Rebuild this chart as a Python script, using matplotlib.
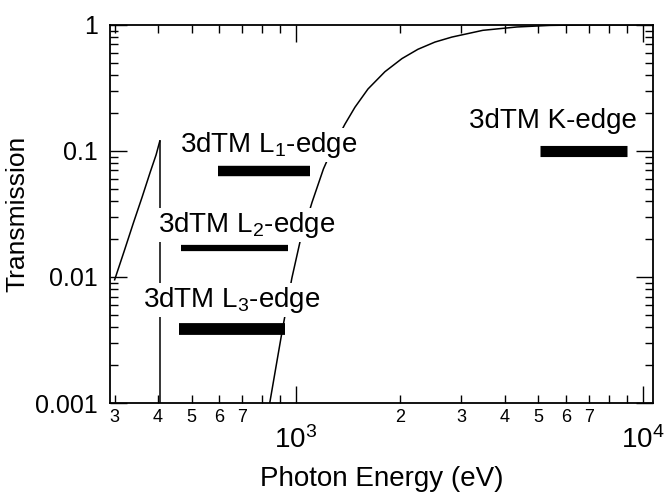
import numpy as np
import matplotlib
matplotlib.use('Agg')
import matplotlib.pyplot as plt

# ---- fonts: Helvetica-like ----
plt.rcParams['font.family'] = ['Liberation Sans', 'DejaVu Sans']
plt.rcParams['mathtext.fontset'] = 'custom'
plt.rcParams['mathtext.rm'] = 'Liberation Sans'
plt.rcParams['mathtext.it'] = 'Liberation Sans:italic'

# ---- data ----
# transmission below the N K-edge
seg1_energy = [300, 320, 340, 360, 380, 395, 405]
seg1_trans = [0.0095, 0.0162, 0.027, 0.043, 0.068, 0.093, 0.12]
edge_energy = [405, 405]
edge_trans = [0.12, 0.0008]
# transmission above the edge
seg2_energy = [840, 880, 915, 973, 1027, 1112, 1200, 1290, 1384, 1479, 1613,
               1805, 2021, 2247, 2515, 2815, 3459, 4335, 5400, 7000, 10700]
seg2_trans = [0.001, 0.0021, 0.0039, 0.0098, 0.019, 0.039, 0.072, 0.113,
              0.163, 0.222, 0.31, 0.425, 0.54, 0.64, 0.73, 0.80, 0.905,
              0.962, 0.99, 1.0, 1.0]

# 3d transition-metal absorption edge ranges
edge_names = ['3dTM L$_1$-edge', '3dTM L$_2$-edge', '3dTM L$_3$-edge', '3dTM K-edge']
edge_lo = [596, 467, 460, 5050]
edge_hi = [1097, 948, 930, 9000]
edge_level = [0.069, 0.017, 0.0039, 0.1]

x_major = [1e3, 1e4]
x_major_labels = ['$10^3$', '$10^4$']
x_minor = [300, 400, 500, 600, 700, 800, 900,
           2000, 3000, 4000, 5000, 6000, 7000, 8000, 9000]
x_minor_labels = ['3', '4', '5', '6', '7', '', '',
                  '2', '3', '4', '5', '6', '7', '', '']
y_major = [0.001, 0.01, 0.1, 1]
y_major_labels = ['0.001', '0.01', '0.1', '1']

fig = plt.figure(figsize=(6.67, 4.97), dpi=100)
ax = fig.add_axes([0.165, 0.189, 0.814, 0.761])

ax.plot(seg1_energy, seg1_trans, color='black', lw=1.1, zorder=2)
ax.plot(edge_energy, edge_trans, color='black', lw=1.1, zorder=2)
ax.plot(seg2_energy, seg2_trans, color='black', lw=1.1, zorder=2)

bar_widths = [7.5, 4.5, 8.5, 8.0]
for lo, hi, lev, w in zip(edge_lo, edge_hi, edge_level, bar_widths):
    ax.hlines(lev, lo, hi, colors='black', linewidth=w, capstyle='butt', zorder=3)

# labels (white box breaks the curve underneath, as in the figure)
label_pos = [(0.293, 0.664), (0.252, 0.452), (0.225, 0.254), (0.816, 0.728)]
for name, (tx, ty) in zip(edge_names, label_pos):
    ax.text(tx, ty, name, transform=ax.transAxes, ha='center', va='baseline',
            fontsize=20, zorder=4,
            bbox=dict(facecolor='white', edgecolor='none', pad=1.5))

ax.set_xscale('log')
ax.set_yscale('log')
ax.set_xlim(291, 10700)
ax.set_ylim(0.001, 1)

ax.set_xticks(x_major)
ax.set_xticklabels(x_major_labels)
ax.set_xticks(x_minor, minor=True)
ax.set_xticklabels(x_minor_labels, minor=True)
ax.set_yticks(y_major)
ax.set_yticklabels(y_major_labels)
ax.yaxis.set_minor_locator(matplotlib.ticker.LogLocator(base=10, subs=np.arange(2, 10)))
ax.yaxis.set_minor_formatter(matplotlib.ticker.NullFormatter())

ax.tick_params(which='both', direction='in', top=True, right=True, width=1.0)
ax.tick_params(which='major', length=12)
ax.tick_params(which='minor', length=6)
ax.tick_params(axis='x', which='major', pad=17, labelsize=20)
ax.tick_params(axis='x', which='minor', pad=4, labelsize=13)
ax.tick_params(axis='y', which='major', pad=9, labelsize=18)

for sp in ax.spines.values():
    sp.set_linewidth(1.3)

ax.set_xlabel('Photon Energy (eV)', fontsize=20, labelpad=8)
ax.set_ylabel('Transmission', fontsize=19, labelpad=4)

fig.savefig('out.png', dpi=100)
